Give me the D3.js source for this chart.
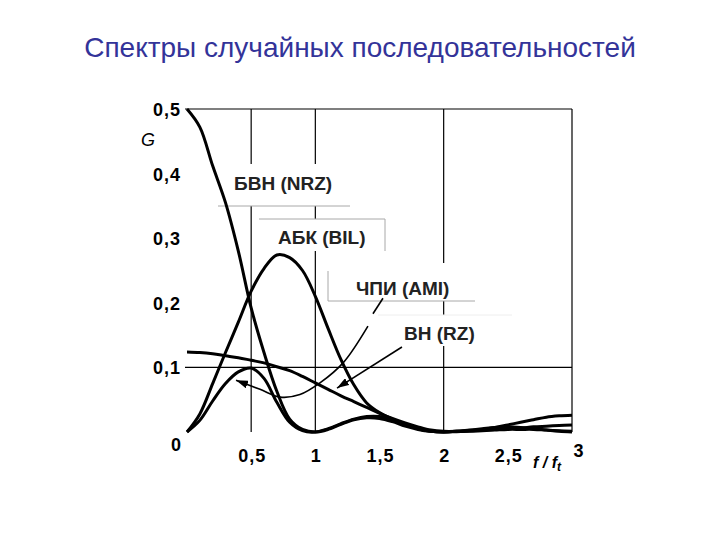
<!DOCTYPE html>
<html><head><meta charset="utf-8">
<script src="https://cdn.jsdelivr.net/npm/d3@7/dist/d3.min.js"></script>
<style>body{margin:0;background:#fff}svg{display:block}</style>
</head><body>
<svg id="c" width="720" height="540"></svg>
<script>
// ---- data ----
const freq = [0,0.1,0.2,0.3,0.4,0.5,0.6,0.7,0.8,0.9,1.0,1.1,1.2,1.3,1.4,1.5,1.6,1.7,1.8,1.9,2.0,2.1,2.2,2.3,2.4,2.5,2.6,2.7,2.8,2.9,3.0];
const nrz = [0.5,0.472,0.412,0.355,0.28,0.192,0.123,0.063,0.02,0.004,0,0.004,0.012,0.019,0.022,0.021,0.016,0.009,0.004,0.001,0,0.001,0.003,0.005,0.007,0.008,0.007,0.005,0.003,0.001,0];
const bil = [0,0.028,0.075,0.123,0.17,0.218,0.253,0.274,0.27,0.25,0.21,0.16,0.112,0.073,0.045,0.03,0.02,0.012,0.005,0.001,0,0.001,0.002,0.004,0.007,0.011,0.015,0.019,0.023,0.025,0.026];
const ami = [0,0.018,0.048,0.075,0.093,0.099,0.083,0.046,0.015,0.002,0,0.005,0.013,0.02,0.024,0.024,0.019,0.012,0.005,0.001,0,0.0005,0.001,0.002,0.003,0.004,0.004,0.004,0.003,0.002,0.001];
const rz  = [0.124,0.123,0.121,0.118,0.115,0.111,0.107,0.101,0.095,0.086,0.076,0.066,0.056,0.047,0.038,0.029,0.021,0.014,0.008,0.003,0.001,0.001,0.002,0.003,0.004,0.005,0.006,0.008,0.009,0.010,0.011];
const series = [nrz, bil, ami, rz];
const seriesNames = ["БВН (NRZ)","АБК (BIL)","ЧПИ (AMI)","ВН (RZ)"];
const yTicks = [0,0.1,0.2,0.3,0.4,0.5];
const yTickLabels = ["0","0,1","0,2","0,3","0,4","0,5"];
const xTicks = [0.5,1,1.5,2,2.5,3];
const xTickLabels = ["0,5","1","1,5","2","2,5","3"];
const gridX = [0.5,1,2,3];
const gridY = [0.1,0.5];
const title = "Спектры случайных последовательностей";

// ---- drawing ----
const svg = d3.select("#c");
const x = d3.scaleLinear().domain([0,3]).range([187,572]);
const y = d3.scaleLinear().domain([0,0.5]).range([432,109]);
const font = "'Liberation Sans', Arial, sans-serif";

svg.append("text").attr("x",360).attr("y",57).attr("text-anchor","middle")
  .attr("font-family",font).attr("font-size",28).attr("fill","#333399").text(title);

// grid
const g = svg.append("g");
g.selectAll("line.gx").data(gridX).join("line")
  .attr("x1",d=>x(d)).attr("x2",d=>x(d)).attr("y1",y(0.5)).attr("y2",y(0))
  .attr("stroke","#000").attr("stroke-width",1.2);
g.selectAll("line.gy").data(gridY).join("line")
  .attr("x1",x(0)-2).attr("x2",x(3)).attr("y1",d=>y(d)).attr("y2",d=>y(d))
  .attr("stroke","#000").attr("stroke-width",1.2);

// label boxes (white backgrounds hiding the grid)
const boxes = [
  {x:218,y:164,w:132,h:42},
  {x:259,y:219,w:126,h:32},
  {x:328,y:263,w:147,h:38},
  {x:378,y:315,w:134,h:31}
];
g.selectAll("rect.box").data(boxes).join("rect")
  .attr("x",d=>d.x).attr("y",d=>d.y).attr("width",d=>d.w).attr("height",d=>d.h).attr("fill","#fff");
const edge = "#a8a8a8";
const edges = [
  [218,206,350,206],
  [259,219,385,219],[385,219,385,251],
  [328,271,328,301],[328,301,475,301],
  [378,315,512,315]
];
g.selectAll("line.edge").data(edges).join("line")
  .attr("x1",d=>d[0]).attr("y1",d=>d[1]).attr("x2",d=>d[2]).attr("y2",d=>d[3])
  .attr("stroke",(d,i)=>i===5?"#eeeeee":edge).attr("stroke-width",1);

const labelPos = [[234,190],[278,244],[356,295],[404,340]];
svg.selectAll("text.lab").data(seriesNames).join("text")
  .attr("x",(d,i)=>labelPos[i][0]).attr("y",(d,i)=>labelPos[i][1])
  .attr("font-family",font).attr("font-size",19).attr("font-weight","bold")
  .attr("fill","#222").text(d=>d);

// ticks
svg.selectAll("text.yt").data(yTicks).join("text")
  .attr("x",d=>d===0?182:181).attr("y",d=>d===0?y(d)+19:y(d)+7)
  .attr("text-anchor","end").attr("font-family",font).attr("font-size",18).attr("font-weight","bold")
  .attr("letter-spacing",1).text((d,i)=>yTickLabels[i]);
svg.selectAll("text.xt").data(xTicks).join("text")
  .attr("x",d=>d===3?x(d)+7:x(d)+1).attr("y",d=>d===3?457:462)
  .attr("text-anchor","middle").attr("font-family",font).attr("font-size",18).attr("font-weight","bold")
  .attr("letter-spacing",1).text((d,i)=>xTickLabels[i]);
svg.append("text").attr("x",141).attr("y",146).attr("font-family",font).attr("font-size",18)
  .attr("font-style","italic").text("G");
const fl = svg.append("text").attr("x",533).attr("y",468).attr("font-family",font).attr("font-size",16)
  .attr("font-style","italic").attr("font-weight","bold");
fl.append("tspan").text("f / f");
fl.append("tspan").attr("font-size",12).attr("dy",3).text("t");

// curves
const line = d3.line().x((d,i)=>x(freq[i])).y(d=>y(Math.max(0,d))).curve(d3.curveCatmullRom.alpha(0.5));
svg.selectAll("path.curve").data(series).join("path")
  .attr("d",d=>line(d)).attr("fill","none").attr("stroke","#000").attr("stroke-width",3)
  .attr("stroke-linejoin","round");

// arrows (annotation paths in data units)
const defs = svg.append("defs");
defs.append("marker").attr("id","ah").attr("viewBox","0 0 12 8").attr("refX",12).attr("refY",4)
  .attr("markerWidth",12).attr("markerHeight",8).attr("markerUnits","userSpaceOnUse").attr("orient","auto")
  .append("path").attr("d","M0,0L12,4L0,8Z").attr("fill","#000");
const amiDash = [[1.527,0.207],[1.449,0.183]];
const amiArrow = [[1.41,0.164],[1.216,0.107],[1.036,0.076],[0.88,0.058],[0.725,0.054],[0.569,0.066],[0.382,0.080]];
const rzArrow = [[1.675,0.1316],[1.169,0.068]];
const al = d3.line().x(d=>x(d[0])).y(d=>y(d[1]));
svg.append("path").attr("d",al(amiDash)).attr("stroke","#000").attr("stroke-width",1.6).attr("fill","none");
svg.append("path").attr("d",al.curve(d3.curveCatmullRom)(amiArrow)).attr("stroke","#000").attr("stroke-width",1.6)
  .attr("fill","none").attr("marker-end","url(#ah)");
svg.append("path").attr("d",d3.line().x(d=>x(d[0])).y(d=>y(d[1]))(rzArrow)).attr("stroke","#000").attr("stroke-width",1.6)
  .attr("fill","none").attr("marker-end","url(#ah)");
</script>
</body></html>
